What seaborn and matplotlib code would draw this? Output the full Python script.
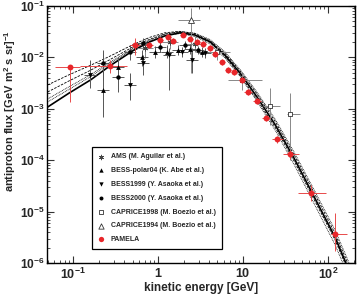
import numpy as np
import matplotlib
matplotlib.use("Agg")
import matplotlib.pyplot as plt
import seaborn as sns

# model curves (on a shared energy grid)
E_model = [0.05, 0.09, 0.16, 0.27, 0.5, 0.8, 1.2, 1.8, 2.7, 4.1, 6.1, 9.2, 14.6, 24, 41, 70, 121, 163, 200]
flux_solid = [1.08e-3, 2.03e-3, 3.63e-3, 6.8e-3, 0.0133, 0.0200, 0.0261, 0.0299, 0.0273, 0.0200, 0.0111,
              4.97e-3, 1.70e-3, 4.84e-4, 1.01e-4, 1.84e-5, 3.21e-6, 1.0e-6, 4.5e-7]
flux_dash1 = [2.9e-3, 4.6e-3, 7.0e-3, 0.0105, 0.0175, 0.0245, 0.030, 0.032, 0.029, 0.021, 0.0120,
              5.5e-3, 1.95e-3, 5.6e-4, 1.18e-4, 2.2e-5, 3.8e-6, 1.2e-6, 5.4e-7]
flux_dash2 = [2.12e-3, 3.5e-3, 5.6e-3, 9.0e-3, 0.0158, 0.0225, 0.0285, 0.031, 0.027, 0.0195, 0.0105,
              4.5e-3, 1.52e-3, 4.3e-4, 8.9e-5, 1.62e-5, 2.85e-6, 8.9e-7, 4.0e-7]
flux_dot1 = [1.55e-3, 2.7e-3, 4.6e-3, 8.0e-3, 0.0148, 0.0215, 0.028, 0.0318, 0.0295, 0.0222, 0.0128,
             5.8e-3, 2.1e-3, 6.2e-4, 1.33e-4, 2.5e-5, 4.4e-6, 1.4e-6, 6.3e-7]
flux_dot2 = [1.36e-3, 2.4e-3, 4.2e-3, 7.5e-3, 0.0142, 0.0205, 0.0262, 0.0290, 0.0255, 0.0182, 0.0098,
             4.3e-3, 1.4e-3, 3.8e-4, 7.6e-5, 1.35e-5, 2.3e-6, 7.2e-7, 3.2e-7]

# PAMELA
pam_E = [0.092, 0.272, 0.536, 0.784, 1.06, 1.31, 1.50, 1.97, 2.38, 2.88, 3.38, 4.09, 4.69, 5.66, 6.66,
         7.84, 9.73, 11.5, 14.6, 18.7, 25.1, 35.7, 63.1, 121]
pam_Elo = [0.061, 0.121, 0.47, 0.70, 0.98, 1.21, 1.38, 1.82, 2.19, 2.65, 3.11, 3.77, 4.32, 5.22, 6.14,
           7.22, 8.97, 10.4, 13.2, 16.8, 21.9, 29.6, 44.4, 108]
pam_Ehi = [0.121, 0.432, 0.61, 0.87, 1.15, 1.42, 1.63, 2.14, 2.58, 3.12, 3.67, 4.44, 5.09, 6.14, 7.22,
           8.5, 10.6, 12.7, 16.1, 20.8, 29.6, 45.6, 94.7, 167]
pam_F = [6.5e-3, 6.8e-3, 0.0174, 0.0174, 0.0218, 0.025, 0.0209, 0.0273, 0.0228, 0.020, 0.0182, 0.0152,
         0.0116, 8.1e-3, 5.7e-3, 5.2e-3, 3.6e-3, 2.1e-3, 1.42e-3, 6.6e-4, 2.6e-4, 1.32e-4, 2.3e-5, 3.7e-6]
pam_Flo = [1.36e-3, 4.97e-3, 0.0111, 0.0155, 0.0195, 0.0222, 0.0186, 0.0245, 0.0205, 0.0178, 0.0162,
           0.0135, 0.0103, 7.2e-3, 5.0e-3, 4.6e-3, 3.2e-3, 1.85e-3, 1.25e-3, 5.7e-4, 2.2e-4, 1.08e-4,
           1.6e-5, 1.71e-6]
pam_Fhi = [6.9e-3, 8.9e-3, 0.0238, 0.0196, 0.0245, 0.0282, 0.0235, 0.0307, 0.0257, 0.0225, 0.0205,
           0.0171, 0.0131, 9.1e-3, 6.4e-3, 5.9e-3, 4.1e-3, 2.4e-3, 1.62e-3, 7.6e-4, 3.0e-4, 1.6e-4,
           3.3e-5, 9.4e-6]

# BESS-polar04
bp_E = [0.225, 0.338, 0.65, 0.92, 1.28, 1.72, 2.38, 3.29]
bp_F = [2.32e-3, 6.5e-3, 0.0102, 0.0127, 0.0127, 0.0139, 0.0146, 0.0127]
bp_Flo = [6.9e-4, 3.63e-3, 6.8e-3, 0.0097, 0.0095, 0.0112, 0.0118, 0.0102]
bp_Fhi = [0.0122, 0.0102, 0.0139, 0.0166, 0.0170, 0.0172, 0.0180, 0.0158]

# BESS1999
b99_E = [0.158, 0.47, 0.667, 1.35, 1.92, 2.51, 3.57]
b99_F = [4.55e-3, 2.9e-3, 7.8e-3, 0.0111, 0.0127, 8.9e-3, 0.0122]
b99_Flo = [2.54e-3, 1.48e-3, 4.55e-3, 2.3e-3, 0.0100, 4.97e-3, 0.0098]
b99_Fhi = [8.9e-3, 4.97e-3, 0.0111, 0.0152, 0.0160, 0.0152, 0.0152]

# BESS2000
b00_E = [0.225, 0.338, 0.47, 0.667, 1.06, 2.08, 2.95]
b00_F = [7.8e-3, 4.16e-3, 0.0127, 0.0191, 0.0159, 0.0174, 0.0139]
b00_Flo = [3.63e-3, 2.12e-3, 9.0e-3, 0.0150, 0.0128, 0.0145, 0.0115]
b00_Fhi = [0.0139, 6.8e-3, 0.0174, 0.0238, 0.0195, 0.0210, 0.0168]

# AMS
ams_E = [0.70, 1.38, 2.72]
ams_F = [0.0152, 0.020, 0.0182]
ams_Flo = [0.0095, 0.0145, 0.0125]
ams_Fhi = [0.0238, 0.0275, 0.0260]

# CAPRICE1998
c98_E = [4.9, 9.73, 20.8, 35.7]
c98_Elo = [3.39, 6.66, 17.2, 32.8]
c98_Ehi = [7.0, 16.7, 27.2, 46.9]
c98_F = [0.0127, 3.63e-3, 1.13e-3, 7.9e-4]
c98_Flo = [9.0e-3, 2.3e-3, 4.84e-4, 1.0e-4]
c98_Fhi = [0.0174, 5.0e-3, 2.54e-3, 2.03e-3]

# CAPRICE1994
c94_E = [2.45]
c94_Elo = [1.72]
c94_Ehi = [3.12]
c94_F = [0.0534]
c94_Flo = [4.97e-3]
c94_Fhi = [0.0914]

xticks = [0.1, 1, 10, 100]
xtick_labels = [r'$\mathbf{10^{-1}}$', r'$\mathbf{1}$', r'$\mathbf{10}$', r'$\mathbf{10^{2}}$']
yticks = [1e-6, 1e-5, 1e-4, 1e-3, 1e-2, 1e-1]
ytick_labels = [r'$\mathbf{10^{-6}}$', r'$\mathbf{10^{-5}}$', r'$\mathbf{10^{-4}}$',
                r'$\mathbf{10^{-3}}$', r'$\mathbf{10^{-2}}$', r'$\mathbf{10^{-1}}$']

sns.set_style("ticks")
plt.rcParams['font.family'] = ['Liberation Sans', 'DejaVu Sans']
plt.rcParams['mathtext.fontset'] = 'custom'
plt.rcParams['mathtext.rm'] = 'Liberation Sans'
plt.rcParams['mathtext.bf'] = 'Liberation Sans:bold'

fig = plt.figure(figsize=(3.6, 2.94), dpi=100)
ax = fig.add_axes([0.131, 0.105, 0.855, 0.875])
ax.set_xscale('log')
ax.set_yscale('log')


def pm(v, lo, hi):
    v = np.asarray(v)
    return [v - np.asarray(lo), np.asarray(hi) - v]


def xbar(E, frac=1.08):
    E = np.asarray(E)
    return [E - E / frac, E * frac - E]


# model curves
sns.lineplot(x=E_model, y=flux_dash1, ax=ax, color='k', lw=0.6, linestyle=(0, (3, 1.5)), sort=False)
sns.lineplot(x=E_model, y=flux_dash2, ax=ax, color='k', lw=0.6, linestyle=(0, (3, 1.5)), sort=False)
sns.lineplot(x=E_model, y=flux_dot1, ax=ax, color='k', lw=0.6, linestyle=(0, (1, 1)), sort=False)
sns.lineplot(x=E_model, y=flux_dot2, ax=ax, color='k', lw=0.6, linestyle=(0, (1, 1)), sort=False)
sns.lineplot(x=E_model, y=flux_solid, ax=ax, color='k', lw=1.2, sort=False)

eb = dict(fmt='none', elinewidth=0.7, capsize=0)
ax.errorbar(ams_E, ams_F, xerr=xbar(ams_E, 1.25), yerr=pm(ams_F, ams_Flo, ams_Fhi), ecolor='#888888', **eb)
ax.errorbar(c98_E, c98_F, xerr=pm(c98_E, c98_Elo, c98_Ehi), yerr=pm(c98_F, c98_Flo, c98_Fhi),
            ecolor='#888888', **eb)
ax.errorbar(c94_E, c94_F, xerr=pm(c94_E, c94_Elo, c94_Ehi), yerr=pm(c94_F, c94_Flo, c94_Fhi),
            ecolor='#888888', **eb)
ax.errorbar(bp_E, bp_F, xerr=xbar(bp_E, 1.17), yerr=pm(bp_F, bp_Flo, bp_Fhi), ecolor='#555555', **eb)
ax.errorbar(b99_E, b99_F, xerr=xbar(b99_E, 1.17), yerr=pm(b99_F, b99_Flo, b99_Fhi), ecolor='#555555', **eb)
ax.errorbar(b00_E, b00_F, xerr=xbar(b00_E, 1.17), yerr=pm(b00_F, b00_Flo, b00_Fhi), ecolor='#555555', **eb)
ax.errorbar(pam_E, pam_F, xerr=pm(pam_E, pam_Elo, pam_Ehi), yerr=pm(pam_F, pam_Flo, pam_Fhi),
            ecolor='#e84a4a', **eb)

ax.scatter(ams_E, ams_F, marker=(6, 2, 0), s=14, color='#444444', linewidths=0.6,
           label='AMS (M. Aguilar et al.)', zorder=4)
sns.scatterplot(x=bp_E, y=bp_F, ax=ax, marker='^', s=12, color='k', edgecolor='k', linewidth=0,
                label='BESS-polar04 (K. Abe et al.)', zorder=4)
sns.scatterplot(x=b99_E, y=b99_F, ax=ax, marker='v', s=12, color='k', edgecolor='k', linewidth=0,
                label='BESS1999 (Y. Asaoka et al.)', zorder=4)
sns.scatterplot(x=b00_E, y=b00_F, ax=ax, marker='o', s=10, color='k', edgecolor='k', linewidth=0,
                label='BESS2000 (Y. Asaoka et al.)', zorder=4)
sns.scatterplot(x=c98_E, y=c98_F, ax=ax, marker='s', s=12, color='white', edgecolor='#333333',
                linewidth=0.6, label='CAPRICE1998 (M. Boezio et al.)', zorder=4)
sns.scatterplot(x=c94_E, y=c94_F, ax=ax, marker='^', s=18, color='white', edgecolor='#333333',
                linewidth=0.6, label='CAPRICE1994 (M. Boezio et al.)', zorder=4)
sns.scatterplot(x=pam_E, y=pam_F, ax=ax, marker='o', s=18, color='#e8262a', edgecolor='#e8262a',
                linewidth=0, label='PAMELA', zorder=5)

ax.set_xlim(0.0494, 208)
ax.set_ylim(1e-6, 1e-1)
ax.set_xticks(xticks)
ax.set_xticklabels(xtick_labels, fontsize=9)
ax.set_yticks(yticks)
ax.set_yticklabels(ytick_labels, fontsize=8.6)
ax.tick_params(which='both', direction='in', top=True, right=True, color='#333333')
ax.tick_params(axis='x', pad=3)
ax.tick_params(axis='y', pad=2)
ax.tick_params(which='major', length=5, width=0.8)
ax.tick_params(which='minor', length=2.5, width=0.6)
for s in ax.spines.values():
    s.set_linewidth(1.0)
    s.set_color('k')

ax.set_xlabel('kinetic energy [GeV]', fontsize=8.5, fontweight='bold', labelpad=0)
ax.set_ylabel(r'antiproton flux [GeV m$^\mathbf{2}$ s sr]$^\mathbf{-1}$', fontsize=8.0,
              fontweight='bold', labelpad=0)
ax.yaxis.set_label_coords(-0.095, 0.59)

leg = ax.legend(loc='upper left', bbox_to_anchor=(0.146, 0.451),
                prop={'weight': 'bold', 'size': 5.0}, frameon=True, fancybox=False,
                edgecolor='k', framealpha=1, labelspacing=0.98, handlelength=0.8,
                handletextpad=1.0, borderpad=0.9, borderaxespad=0, markerscale=0.9)
leg.get_frame().set_linewidth(0.9)

fig.savefig('out.png', dpi=100)
